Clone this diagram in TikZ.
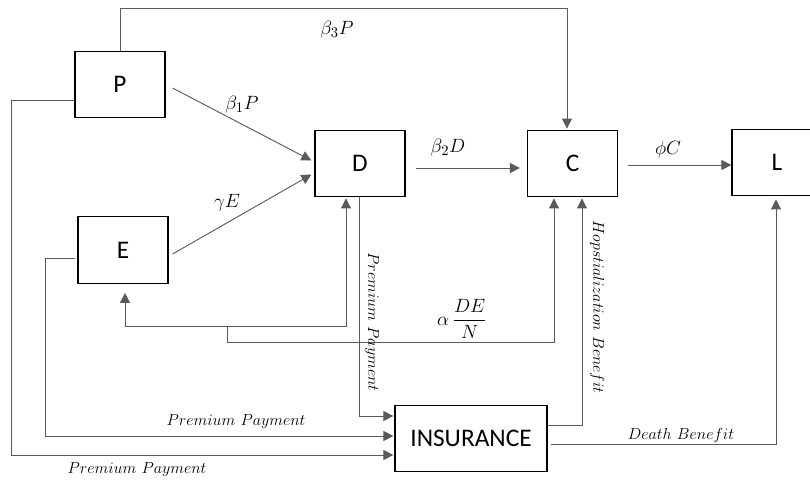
\documentclass[tikz,border=0pt]{standalone}
\usepackage{fontspec}
\newfontfamily\boxfont{Carlito}
\usetikzlibrary{arrows.meta,calc}
\definecolor{lin}{HTML}{5A5A5A}
\tikzset{
  box/.style={draw=black, line width=0.9pt, minimum width=67.5pt, minimum height=50pt, inner sep=0pt, font=\boxfont\fontsize{19}{19}\selectfont},
  arr/.style={draw=lin, line width=0.7pt, -{Triangle[length=7.5pt,width=7.5pt]}},
  lab/.style={inner sep=0pt, font=\fontsize{12.5}{12.5}\selectfont},
  mlab/.style={inner sep=0pt, font=\fontsize{15}{15}\selectfont}
}
\begin{document}
\begin{tikzpicture}[x=0.75pt,y=-0.75pt]
\useasboundingbox (0,0) rectangle (810,480);
% boxes
\node[box] (P) at (120,84.5) {P};
\node[box] (D) at (360,163.5) {D};
\node[box] (E) at (123,250) {E};
\node[box] (C) at (572.5,163.5) {C};
\node[box] (L) at (777,162.5) {L};
\node[box, minimum width=114pt] (INS) at (471,438.5) {INSURANCE};
% beta3 P
\draw[arr] (P.north) -- ++(0,-42) -| ($(C.north)+(-5.5,-1)$);
% beta1 P and gamma E
\draw[arr] ($(P.east)+(7,3.5)$) -- ($(D.west)+(-3,-3)$);
\draw[arr] ($(E.east)+(4,4)$) -- ($(D.west)+(-3,11)$);
% beta2 D, phi C
\draw[arr] ($(D.east)+(10,4.5)$) -- ($(C.west)+(-7,4.5)$);
\draw[arr] ($(C.east)+(10,1.5)$) -- ($(L.west)+(0,2.5)$);
% premium payments
\draw[arr] ($(P.west)+(0,15.5)$) -- ++(-63,0) |- ($(INS.west)+(-1,16.5)$);
\draw[arr] ($(E.west)+(-2,8)$) -- ++(-30,0) |- ($(INS.west)+(-1,-2.5)$);
\draw[arr] ($(D.south)+(-1,0)$) |- ($(INS.west)+(-1,-22.5)$);
% alpha DE/N loop
\coordinate (j1) at (227,326);
\coordinate (j2) at (227,342);
\draw[arr] (j1) -| ($(D.south)+(-14,1)$);
\draw[arr] (j1) -| ($(E.south)+(2,9)$);
\draw[arr] (j1) -- (j2) -| ($(C.south)+(-18.5,1)$);
% hospitalization, death
\draw[arr] ($(INS.east)+(0,-13.5)$) -| ($(C.south)+(9.5,1)$);
\draw[arr] ($(INS.east)+(3,5.5)$) -| ($(L.south)+(-1,3)$);
% labels
\node[mlab] (l1) at (337,30) {$\beta_3P$};
\node[mlab] (l2) at (242,105) {$\beta_1P$};
\node[mlab] (l3) at (227,203) {$\gamma E$};
\node[mlab] (l4) at (448,148) {$\beta_2D$};
\node[mlab] (l5) at (668,150) {$\phi C$};
\node[mlab] (l6) at (462,319) {$\alpha\,\displaystyle\frac{DE}{N}$};
\node[lab] (l7) at (236,422) {$Premium\ Payment$};
\node[lab] (l8) at (137,470) {$Premium\ Payment$};
\node[lab, rotate=-90] (l9) at (372,322) {$Premium\ Payment$};
\node[lab, rotate=-90] (l10) at (597,307) {$Hopstialization\ Benefit$};
\node[lab] (l11) at (681,435) {$Death\ Benefit$};
\end{tikzpicture}
\end{document}
